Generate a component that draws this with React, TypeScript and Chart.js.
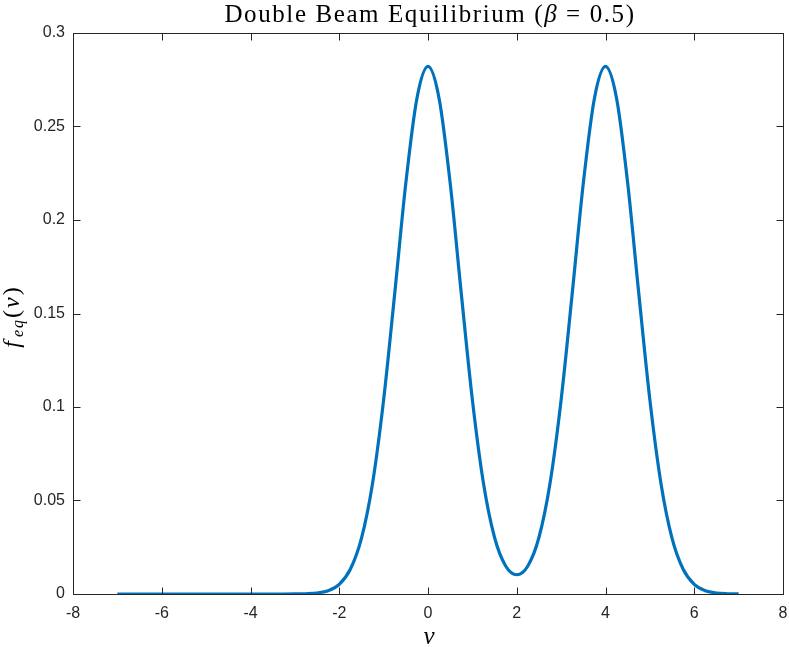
import React, { useEffect, useRef } from "react";
import { Chart, registerables } from "chart.js";

Chart.register(...registerables);

const titleParts = ["Double Beam Equilibrium (", "β", " = 0.5)"];
const xLabel = "v";
const xTicks = [-8, -6, -4, -2, 0, 2, 4, 6, 8];
const yTicks = [0, 0.05, 0.1, 0.15, 0.2, 0.25, 0.3];

const vValues = [
  -7, -6.75, -6.5, -6.25, -6, -5.75, -5.5, -5.25, -5, -4.75, -4.5, -4.25, -4,
  -3.75, -3.5, -3.25, -3, -2.75, -2.5, -2.25, -2, -1.75, -1.5, -1.25, -1,
  -0.75, -0.5, -0.25, 0, 0.25, 0.5, 0.75, 1, 1.25, 1.5, 1.75, 2, 2.25, 2.5,
  2.75, 3, 3.25, 3.5, 3.75, 4, 4.25, 4.5, 4.75, 5, 5.25, 5.5, 5.75, 6, 6.25,
  6.5, 6.75, 7,
];
const fValues = [
  0, 0, 0, 0, 0, 0, 0, 0, 0, 0, 0, 0, 0,
  0, 0.0000014, 0.000007, 0.000035, 0.000146, 0.000544, 0.00179, 0.00517, 0.0132, 0.0297, 0.0591, 0.1038,
  0.1607, 0.2197, 0.265, 0.2821, 0.265, 0.2197, 0.1607, 0.1038, 0.0592, 0.0302, 0.015, 0.0103, 0.015, 0.0302,
  0.0592, 0.1038, 0.1607, 0.2197, 0.265, 0.2821, 0.265, 0.2197, 0.1607, 0.1038, 0.0591, 0.0297, 0.0132, 0.00517, 0.00179,
  0.000544, 0.000146, 0.000035,
];

const AXIS_COLOR = "#262626";
const TICK_FONT = "'Liberation Sans', Arial, sans-serif";
const SERIF = "'Liberation Serif', 'Times New Roman', serif";

const decorPlugin = {
  id: "decor",
  afterDraw(chart: any) {
    const ctx = chart.ctx as CanvasRenderingContext2D & { letterSpacing?: string };
    const a = chart.chartArea;
    const xs = chart.scales.x;
    const ys = chart.scales.y;
    ctx.save();
    ctx.strokeStyle = AXIS_COLOR;
    ctx.lineWidth = 1;
    const L = Math.round(a.left) + 0.5;
    const R = Math.round(a.right) + 0.5;
    const T = Math.round(a.top) + 0.5;
    const B = Math.round(a.bottom) + 0.5;
    ctx.strokeRect(L, T, R - L, B - T);
    const tl = 7;
    ctx.beginPath();
    for (const t of xTicks) {
      const px = Math.round(xs.getPixelForValue(t)) + 0.5;
      ctx.moveTo(px, B);
      ctx.lineTo(px, B - tl);
      ctx.moveTo(px, T);
      ctx.lineTo(px, T + tl);
    }
    for (const t of yTicks) {
      const py = Math.round(ys.getPixelForValue(t)) + 0.5;
      ctx.moveTo(L, py);
      ctx.lineTo(L + tl, py);
      ctx.moveTo(R, py);
      ctx.lineTo(R - tl, py);
    }
    ctx.stroke();

    // title
    const cx = (a.left + a.right) / 2;
    ctx.fillStyle = "#000";
    ctx.textBaseline = "alphabetic";
    ctx.textAlign = "left";
    ctx.letterSpacing = "1.6px";
    const fN = `25px ${SERIF}`;
    const fI = `italic 25px ${SERIF}`;
    const fonts = [fN, fI, fN];
    let total = 0;
    const widths: number[] = [];
    titleParts.forEach((p, i) => {
      ctx.font = fonts[i];
      const w = ctx.measureText(p).width;
      widths.push(w);
      total += w;
    });
    let x = cx + 2 - total / 2;
    titleParts.forEach((p, i) => {
      ctx.font = fonts[i];
      ctx.fillText(p, x, 22);
      x += widths[i];
    });

    // x label
    ctx.letterSpacing = "0px";
    ctx.font = `italic 25px ${SERIF}`;
    ctx.textAlign = "center";
    ctx.fillText(xLabel, cx + 1, 644);

    // y label: f_eq(v)
    const cy = (a.top + a.bottom) / 2 + 3;
    ctx.translate(19, cy);
    ctx.rotate(-Math.PI / 2);
    ctx.textAlign = "left";
    ctx.letterSpacing = "2px";
    const segs = [
      { t: "f", f: `italic 24px ${SERIF}`, dy: 0 },
      { t: "eq", f: `italic 16px ${SERIF}`, dy: 4 },
      { t: "(", f: `24px ${SERIF}`, dy: 0 },
      { t: "v", f: `italic 24px ${SERIF}`, dy: 0 },
      { t: ")", f: `24px ${SERIF}`, dy: 0 },
    ];
    let tw = 0;
    const sw: number[] = [];
    for (const s of segs) {
      ctx.font = s.f;
      const w = ctx.measureText(s.t).width + (s.t === "f" ? 2 : 0);
      sw.push(w);
      tw += w;
    }
    let sx = -tw / 2;
    segs.forEach((s, i) => {
      ctx.font = s.f;
      ctx.fillText(s.t, sx, s.dy);
      sx += sw[i];
    });
    ctx.restore();
  },
};

export default function App() {
  const ref = useRef<HTMLCanvasElement>(null);
  useEffect(() => {
    if (!ref.current) return;
    const chart = new Chart(ref.current, {
      type: "line",
      data: {
        datasets: [
          {
            data: vValues.map((v, i) => ({ x: v, y: fValues[i] })),
            borderColor: "#0072BD",
            borderWidth: 3.2,
            pointRadius: 0,
            fill: false,
            cubicInterpolationMode: "monotone",
          },
        ],
      },
      options: {
        animation: false,
        responsive: false,
        maintainAspectRatio: false,
        layout: { padding: { top: 33, right: 6, left: 0, bottom: 0 } },
        plugins: { legend: { display: false }, tooltip: { enabled: false }, title: { display: false } },
        scales: {
          x: {
            type: "linear",
            min: -8,
            max: 8,
            afterFit: (s: any) => {
              s.height = 53;
              s.paddingLeft = 0;
              s.paddingRight = 0;
            },
            afterBuildTicks: (s: any) => {
              s.ticks = xTicks.map((v) => ({ value: v }));
            },
            grid: { display: false, drawTicks: false },
            border: { display: false },
            ticks: {
              color: AXIS_COLOR,
              font: { family: TICK_FONT, size: 16 },
              padding: 10,
              maxRotation: 0,
              autoSkip: false,
              callback: (v: any) => String(v),
            },
          },
          y: {
            type: "linear",
            min: 0,
            max: 0.3,
            afterFit: (s: any) => {
              s.width = 73;
              s.paddingTop = 0;
              s.paddingBottom = 0;
            },
            afterBuildTicks: (s: any) => {
              s.ticks = yTicks.map((v) => ({ value: v }));
            },
            grid: { display: false, drawTicks: false },
            border: { display: false },
            ticks: {
              color: AXIS_COLOR,
              font: { family: TICK_FONT, size: 16 },
              padding: 8,
              autoSkip: false,
              callback: (v: any) => String(Math.round(v * 100) / 100),
            },
          },
        },
      },
      plugins: [decorPlugin],
    });
    return () => chart.destroy();
  }, []);
  return (
    <div style={{ position: "fixed", left: 0, top: 0, width: 789, height: 647, background: "#fff" }}>
      <canvas ref={ref} width={789} height={647} style={{ width: 789, height: 647 }} />
    </div>
  );
}
